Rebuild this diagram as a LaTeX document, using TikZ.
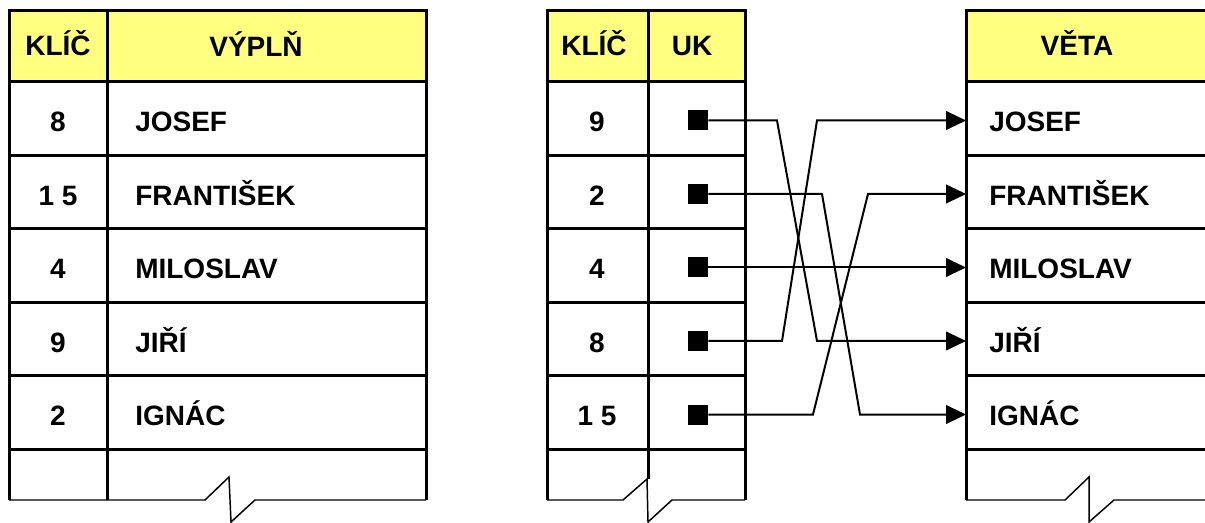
\documentclass[tikz,border=0pt]{standalone}
\usepackage{fontspec}
\setmainfont{Liberation Sans}
\usetikzlibrary{calc,arrows.meta}
\definecolor{headyellow}{RGB}{255,255,128}

\begin{document}
\begin{tikzpicture}[x=0.75pt,y=-0.75pt,
  grid/.style={line width=2.25pt},
  cut/.style={line width=1.1pt},
  txt/.style={font=\fontsize{21}{25}\selectfont\bfseries,inner sep=0pt},
  ptr/.style={fill=black,minimum size=15pt,inner sep=0pt},
  link/.style={line width=1.5pt,-{Triangle[length=15pt,width=14pt]}}]
  \useasboundingbox (0,0) rectangle (1205,523);
  \fill[headyellow] (9,11) rectangle (426,82);
  \fill[headyellow] (547,11) rectangle (745,82);
  \fill[headyellow] (966,11) rectangle (1205,82);
  % key/data table
  \draw[grid] (9,500) -- (9,11) -- (426,11) -- (426,500);
  \draw[grid] (107,11) -- (107,500);
  \foreach \k in {0,...,5}
    \draw[grid] (9,{82+73.5*\k}) -- (426,{82+73.5*\k});
  \draw[cut] (9,500) -- (205,500) -- (229,477) -- (231,522) -- (255,500) -- (426,500);
  % index table
  \draw[grid] (547,500) -- (547,11) -- (745,11) -- (745,500);
  \draw[grid] (648,11) -- (648,479);
  \foreach \k in {0,...,5}
    \draw[grid] (547,{82+73.5*\k}) -- (745,{82+73.5*\k});
  \draw[cut] (547,500) -- (623,500) -- (647,479) -- (648,522) -- (672,500) -- (745,500);
  % record table
  \draw[grid] (966,500) -- (966,11) -- (1205,11);
  \foreach \k in {0,...,5}
    \draw[grid] (966,{82+73.5*\k}) -- (1205,{82+73.5*\k});
  \draw[cut] (966,500) -- (1065,500) -- (1089,477) -- (1089,522) -- (1114,500) -- (1205,500);
  % headers
  \node[txt,anchor=base] (lkey) at (58,56) {KLÍČ};
  \node[txt,anchor=base] (lfill) at (256,57) {VÝPLŇ};
  \node[txt,anchor=base] (ikey) at (594,56) {KLÍČ};
  \node[txt,anchor=base] (iuk) at (692,56) {UK};
  \node[txt,anchor=base] (rrec) at (1077,56) {VĚTA};
  % rows
  \foreach \a/\b [count=\i] in {8/JOSEF,1 5/FRANTIŠEK,4/MILOSLAV,9/JIŘÍ,2/IGNÁC}{
    \node[txt,anchor=base] (lk\i) at (58,{58.5+73.5*\i}) {\a};
    \node[txt,anchor=base west] (lv\i) at (135,{58.5+73.5*\i}) {\b};
    \node[txt,anchor=base west] (rv\i) at (989,{58.5+73.5*\i}) {\b};
    \coordinate (t\i) at (966,{47+73.5*\i});
  }
  \foreach \a [count=\i] in {9,2,4,8,1 5}{
    \node[txt,anchor=base] (ik\i) at (597,{58.5+73.5*\i}) {\a};
    \node[ptr] (p\i) at (698,{47+73.5*\i}) {};
  }
  % pointers
  \draw[link] (p3.east) -- (t3);
  \foreach \s/\t/\a/\b in {1/4/777/817,2/5/822/860,4/1/782/817,5/2/813/868}
    \draw[link] (p\s.east) -- (p\s.east -| \a,0) -- (t\t -| \b,0) -- (t\t);
\end{tikzpicture}
\end{document}
